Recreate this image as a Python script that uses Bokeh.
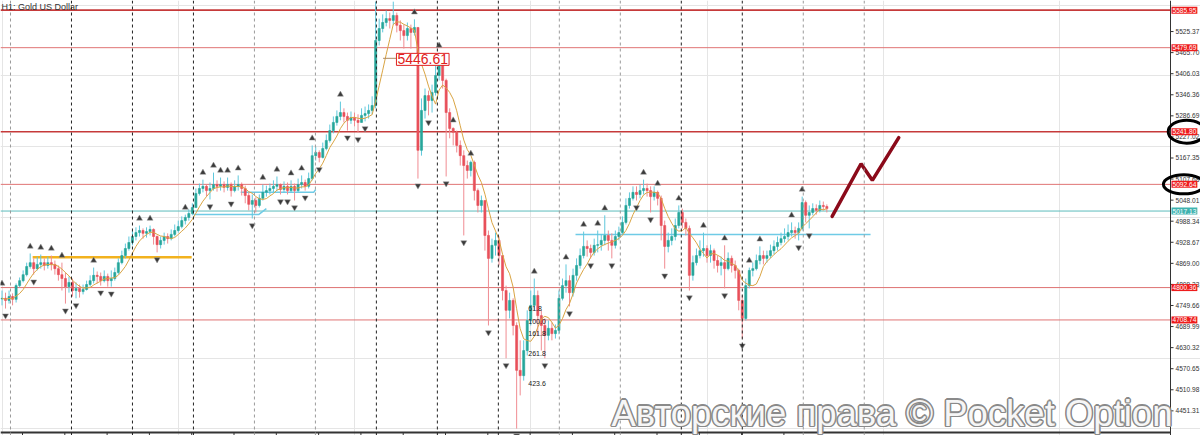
import numpy as np
import pandas as pd
from bokeh.plotting import figure
from bokeh.models import Range1d, Span, Label
from bokeh.embed import file_html
from bokeh.resources import INLINE
from bokeh.core.properties import value

chart_title = "H1:  Gold US Dollar"
watermark = "Авторские права © Pocket Option"

first_open = 4768
close = [
    4770, 4764, 4775, 4767, 4806, 4820, 4837, 4860, 4871, 4854,
    4866, 4871, 4863, 4871, 4866, 4854, 4837, 4826, 4803, 4815,
    4792, 4798, 4789, 4795, 4809, 4820, 4835, 4832, 4820, 4832,
    4820, 4826, 4843, 4871, 4891, 4911, 4928, 4945, 4956, 4962,
    4954, 4959, 4965, 4945, 4922, 4934, 4945, 4939, 4951, 4962,
    4973, 4990, 4999, 5010, 5027, 5067, 5081, 5087, 5075, 5081,
    5092, 5087, 5092, 5084, 5092, 5075, 5087, 5092, 5081, 5061,
    5036, 5047, 5033, 5053, 5070, 5075, 5081, 5087, 5092, 5078,
    5087, 5075, 5087, 5075, 5092, 5098, 5087, 5109, 5174, 5183,
    5169, 5194, 5217, 5245, 5268, 5285, 5296, 5285, 5274, 5282,
    5274, 5268, 5288, 5293, 5302, 5316, 5500, 5534, 5551, 5562,
    5557, 5571, 5543, 5528, 5514, 5534, 5523, 5537, 5189, 5302,
    5344, 5330, 5353, 5401, 5429, 5387, 5296, 5251, 5240, 5203,
    5174, 5146, 5132, 5155, 5075, 5033, 5047, 4948, 4883, 4920,
    4934, 4891, 4792, 4736, 4764, 4693, 4566, 4551, 4622, 4707,
    4750, 4778, 4721, 4693, 4665, 4685, 4670, 4679, 4770, 4806,
    4820, 4786, 4835, 4863, 4891, 4917, 4911, 4900, 4920, 4922,
    4934, 4948, 4934, 4920, 4945, 4956, 4985, 5033, 5053, 5070,
    5064, 5075, 5081, 5075, 5058, 5070, 5053, 4976, 4917, 4934,
    4945, 4976, 5013, 4985, 4968, 4835, 4871, 4891, 4905, 4911,
    4891, 4905, 4877, 4863, 4871, 4854, 4883, 4863, 4849, 4764,
    4713, 4806, 4849, 4854, 4877, 4891, 4883, 4891, 4905, 4917,
    4928, 4939, 4945, 4956, 4962, 4956, 4968, 5041, 5005, 5013,
    5024, 5019, 5033, 5030, 5024]
high = [
    4792, 4786, 4792, 4784, 4812, 4829, 4849, 4871, 4897, 4883,
    4888, 4894, 4883, 4888, 4891, 4877, 4863, 4871, 4843, 4832,
    4826, 4815, 4809, 4809, 4820, 4835, 4857, 4846, 4843, 4849,
    4840, 4849, 4857, 4883, 4905, 4925, 4945, 4962, 4971, 4976,
    4968, 4971, 4976, 4968, 4948, 4945, 4956, 4954, 4965, 4979,
    4990, 5002, 5007, 5022, 5039, 5081, 5095, 5106, 5092, 5098,
    5126, 5104, 5112, 5101, 5112, 5098, 5104, 5118, 5098, 5089,
    5070, 5064, 5056, 5064, 5092, 5089, 5095, 5104, 5115, 5095,
    5101, 5098, 5104, 5095, 5109, 5118, 5106, 5126, 5203, 5200,
    5189, 5211, 5234, 5262, 5285, 5302, 5327, 5308, 5296, 5299,
    5296, 5291, 5308, 5313, 5319, 5342, 5610, 5562, 5574, 5585,
    5579, 5610, 5579, 5557, 5545, 5551, 5545, 5560, 5534, 5336,
    5364, 5358, 5375, 5429, 5466, 5443, 5392, 5308, 5254, 5245,
    5217, 5189, 5160, 5160, 5160, 5081, 5061, 5047, 4962, 4939,
    4956, 4945, 4891, 4806, 4786, 4770, 4702, 4651, 4651, 4736,
    4792, 4826, 4792, 4736, 4713, 4707, 4702, 4696, 4792, 4826,
    4866, 4835, 4854, 4883, 4911, 4959, 4934, 4922, 4939, 4962,
    4951, 5005, 4962, 4954, 4962, 4973, 5002, 5053, 5070, 5087,
    5087, 5092, 5106, 5095, 5087, 5087, 5075, 5061, 4990, 4956,
    4968, 4996, 5033, 5024, 4996, 4976, 4891, 4911, 4934, 4956,
    4920, 4922, 4911, 4891, 4888, 4920, 4900, 4891, 4877, 4854,
    4778, 4826, 4857, 4871, 4894, 4917, 4905, 4905, 4922, 4934,
    4945, 4956, 4968, 4979, 4985, 4973, 4985, 5058, 5047, 5033,
    5039, 5036, 5047, 5044, 5036]
low = [
    4750, 4741, 4755, 4750, 4758, 4801, 4815, 4832, 4854, 4837,
    4849, 4854, 4849, 4854, 4849, 4837, 4820, 4792, 4755, 4786,
    4775, 4770, 4772, 4781, 4792, 4803, 4812, 4812, 4806, 4815,
    4803, 4803, 4820, 4837, 4866, 4883, 4905, 4920, 4934, 4945,
    4939, 4942, 4948, 4922, 4900, 4911, 4922, 4925, 4934, 4945,
    4956, 4968, 4979, 4990, 5005, 5030, 5061, 5070, 5058, 5050,
    5075, 5072, 5075, 5070, 5075, 5058, 5070, 5075, 5061, 5039,
    5019, 4996, 5013, 5027, 5047, 5058, 5064, 5070, 5075, 5064,
    5070, 5064, 5070, 5047, 5070, 5081, 5075, 5081, 5104, 5160,
    5155, 5166, 5189, 5211, 5237, 5259, 5274, 5268, 5245, 5264,
    5257, 5240, 5268, 5271, 5279, 5291, 5308, 5486, 5523, 5540,
    5534, 5545, 5523, 5500, 5477, 5500, 5477, 5514, 5109, 5174,
    5279, 5288, 5296, 5344, 5387, 5364, 5115, 5223, 5203, 5183,
    5146, 4948, 5109, 5115, 5047, 5013, 5013, 4905, 4693, 4871,
    4891, 4863, 4764, 4600, 4713, 4665, 4401, 4495, 4537, 4608,
    4693, 4736, 4665, 4622, 4600, 4651, 4651, 4656, 4668, 4764,
    4786, 4747, 4775, 4820, 4854, 4883, 4888, 4883, 4891, 4900,
    4905, 4920, 4905, 4883, 4911, 4934, 4951, 4979, 5024, 5047,
    5047, 5053, 5064, 5058, 5013, 5047, 5033, 4934, 4854, 4900,
    4920, 4934, 4968, 4968, 4948, 4792, 4820, 4863, 4883, 4888,
    4871, 4871, 4854, 4843, 4835, 4798, 4849, 4843, 4826, 4736,
    4656, 4707, 4798, 4832, 4849, 4866, 4866, 4871, 4883, 4894,
    4905, 4920, 4928, 4934, 4945, 4939, 4934, 4962, 4985, 4968,
    5005, 5007, 5013, 5019, 5013]

up_fractals = [0, 8, 11, 14, 17, 26, 39, 42, 52, 57, 60, 62, 64, 67, 74, 78, 82, 85, 88, 96,
               111, 117, 124, 128, 133, 151, 160, 165, 169, 171, 182, 186, 192, 199, 205, 212,
               215, 224, 227]
down_fractals = [1, 9, 18, 21, 28, 31, 44, 59, 65, 71, 79, 81, 83, 86, 90, 98, 101, 103, 114,
                 116, 118, 121, 126, 131, 138, 143, 146, 154, 161, 167, 173, 180, 184, 188, 195,
                 205, 210, 226, 229]

price_ticks = [4451.31, 4510.98, 4570.65, 4630.32, 4689.99, 4749.66, 4809.33, 4869.00,
               4928.67, 4988.34, 5048.01, 5107.68, 5167.35, 5227.02, 5286.69, 5346.36,
               5406.03, 5465.70, 5525.37]

red_levels = [5585.95, 5479.69, 5241.80, 5092.64, 4800.36, 4708.74]
strong_levels = [5585.95, 5241.80]
circled_levels = [5241.80, 5092.64]
teal_level = 5017.13
orange_level = 4886.0
orange_span = [8.7, 53.8]
blue_xs = [[54.3, 72.8, 75.0], [67.7, 88.4, 89.0], [162.7, 246.4]]
blue_ys = [[5007, 5007, 5024], [5070, 5070, 5078], [4951, 4951]]

fib_labels = ["61.8", "100.0", "161.8", "261.8", "423.6"]
fib_prices = [4741, 4704, 4670, 4614, 4529]
fib_bar = 149.3

marked_price = 5446.61
marked_bar = 111.9
forecast_bars = [235.5, 243.7, 246.9, 254.4]
forecast_prices = [5002, 5151, 5104, 5225]

ma_period = 6

# ---------------------------------------------------------------- layout
W, H = 1200, 435
BAR0, BAR_PX = 1.5, 3.525          # first bar centre and bar spacing, px
AXIS_PX = 1170.0                    # price-scale line, px
PRICE_PER_PX = 2.8317
y_hi = 5613.3
y_lo = y_hi - H * PRICE_PER_PX
x_start = -BAR0 / BAR_PX
x_end = (W - BAR0) / BAR_PX
axis_bar = (AXIS_PX - BAR0) / BAR_PX
px = 1.0 / BAR_PX                   # one pixel in bar units
bottom_line = y_hi - 432 * PRICE_PER_PX

n = len(close)
bars = np.arange(n)
c = np.array(close, float)
o = np.array([first_open] + close[:-1], float)
hi = np.maximum.reduce([np.array(high, float), o, c])
lo = np.minimum.reduce([np.array(low, float), o, c])
up = c >= o

p = figure(width=W, height=H, x_range=Range1d(x_start, x_end), y_range=Range1d(y_lo, y_hi),
           output_backend="svg", toolbar_location=None, x_axis_location=None, y_axis_location=None,
           min_border_left=0, min_border_top=0, min_border_bottom=0, min_border_right=0)
p.outline_line_color = None
p.background_fill_color = "white"
p.border_fill_color = "white"

# vertical dashed grid
grid_first, grid_step = 2.41, 17.30
grid_dark = [False, True, True, True, False, False, True, True, True, False, False, True, True, False, False]
for k, dark in enumerate(grid_dark):
    p.add_layout(Span(location=grid_first + k * grid_step, dimension="height",
                      line_color="#222222" if dark else "#9a9a9a", line_width=1,
                      line_dash="3 3"))

# horizontal levels (stop at price scale)
for lv in red_levels:
    strong = lv in strong_levels
    p.line([x_start, axis_bar], [lv, lv], line_color="#c63a3a" if strong else "#e07474",
           line_width=1.6 if strong else 1)
p.line([x_start, axis_bar], [teal_level, teal_level], line_color="#5cbcbc", line_width=1)

p.line(orange_span, [orange_level, orange_level], line_color="#f2b21e", line_width=2.5)
p.multi_line(blue_xs, blue_ys, line_color="#6fcbe6", line_width=1.5)

# candles
bull, bear = "#26a69a", "#e8505a"
p.segment(bars[up], lo[up], bars[up], hi[up], line_color="#5fc8dc", line_width=1)
p.segment(bars[~up], lo[~up], bars[~up], hi[~up], line_color="#f08c92", line_width=1)
p.vbar(x=bars[up], width=0.6, top=c[up], bottom=o[up], fill_color=bull, line_color=bull, line_width=0.6)
p.vbar(x=bars[~up], width=0.6, top=o[~up], bottom=c[~up], fill_color=bear, line_color=bear, line_width=0.6)

# moving average
ma = pd.Series(c).rolling(ma_period, min_periods=1).mean().values
p.line(bars, ma, line_color="#d9a443", line_width=1)

# fractals
uf = np.array(up_fractals)
df = np.array(down_fractals)
p.scatter(uf, hi[uf] + 20, marker="triangle", size=6, fill_color="#3a3a3a", line_color="#9a9a9a",
          line_width=0.5)
p.scatter(df, lo[df] - 20, marker="inverted_triangle", size=6, fill_color="#3a3a3a",
          line_color="#9a9a9a", line_width=0.5)

# fibo texts
p.text(x=[fib_bar] * len(fib_labels), y=fib_prices, text=fib_labels, text_font_size="7px",
       text_color="#222222", text_font=value("Liberation Sans"), text_baseline="middle")

# marked price
p.line([marked_bar - 3.8, marked_bar], [marked_price + 3, marked_price + 3], line_color="#b08a60", line_width=1)
p.add_layout(Label(x=marked_bar, y=marked_price, text=f"{marked_price:.2f}", text_font_size="14px",
                   text_font="Liberation Sans", text_color="#e02020", text_baseline="middle",
                   background_fill_color="white", border_line_color="#e02020", border_line_width=1,
                   padding=1))

# forecast zigzag
p.line(forecast_bars, forecast_prices, line_color="#8b0a1a", line_width=3.5, line_cap="round")

# price scale (drawn on the right edge of the chart)
p.line([axis_bar, axis_bar], [y_lo, y_hi], line_color="#333333", line_width=1)
p.segment([axis_bar] * len(price_ticks), price_ticks, [axis_bar + 3 * px] * len(price_ticks), price_ticks,
          line_color="#333333", line_width=1)
p.text(x=[axis_bar + 5 * px] * len(price_ticks), y=price_ticks, text=[f"{t:.2f}" for t in price_ticks],
       text_font_size="6.6px", text_color="#333333", text_font=value("Liberation Sans"),
       text_baseline="middle")

# bottom time scale line
p.line([x_start, axis_bar], [bottom_line, bottom_line], line_color="#333333", line_width=2)
time_ticks = [5.82 + 12 * k for k in range(19)]
p.segment(time_ticks, [bottom_line] * len(time_ticks), time_ticks, [y_lo] * len(time_ticks),
          line_color="#333333", line_width=1)

for lv in red_levels:
    p.add_layout(Label(x=axis_bar, y=lv, x_offset=1, text=f"{lv:.2f}", text_font_size="6.6px",
                       text_font="Liberation Sans", text_color="white", text_baseline="middle",
                       background_fill_color="#ee1c1c", padding=1))
p.add_layout(Label(x=axis_bar, y=teal_level, x_offset=1, text=f"{teal_level:.2f}", text_font_size="6.6px",
                   text_font="Liberation Sans", text_color="white", text_baseline="middle",
                   background_fill_color="#3fb3b0", padding=1))
p.ellipse(x=[axis_bar + 4.6, axis_bar + 3.8], y=circled_levels, width=[37, 41], height=[23, 19],
          width_units="screen", height_units="screen", fill_color=None, line_color="black", line_width=3)

# title
p.add_layout(Label(x=1, y=H - 1, x_units="screen", y_units="screen", text=chart_title,
                   text_font_size="9px", text_font="Liberation Sans", text_color="#333333",
                   text_baseline="top"))

# watermark (outlined)
wx, wy = 611, 1.6
for dx, dy in [(-1.5, 0), (1.5, 0), (0, -1.5), (0, 1.5), (-1.1, -1.1), (1.1, 1.1), (-1.1, 1.1), (1.1, -1.1)]:
    p.add_layout(Label(x=wx + dx, y=wy + dy, x_units="screen", y_units="screen", text=watermark,
                       text_font_size="36.5px", text_font="Liberation Sans", text_color="#8a8a8a",
                       text_baseline="bottom"))
p.add_layout(Label(x=wx, y=wy, x_units="screen", y_units="screen", text=watermark,
                   text_font_size="36.5px", text_font="Liberation Sans", text_color="#f6f6f6",
                   text_baseline="bottom"))

open("out.html", "w").write(file_html(p, INLINE))
